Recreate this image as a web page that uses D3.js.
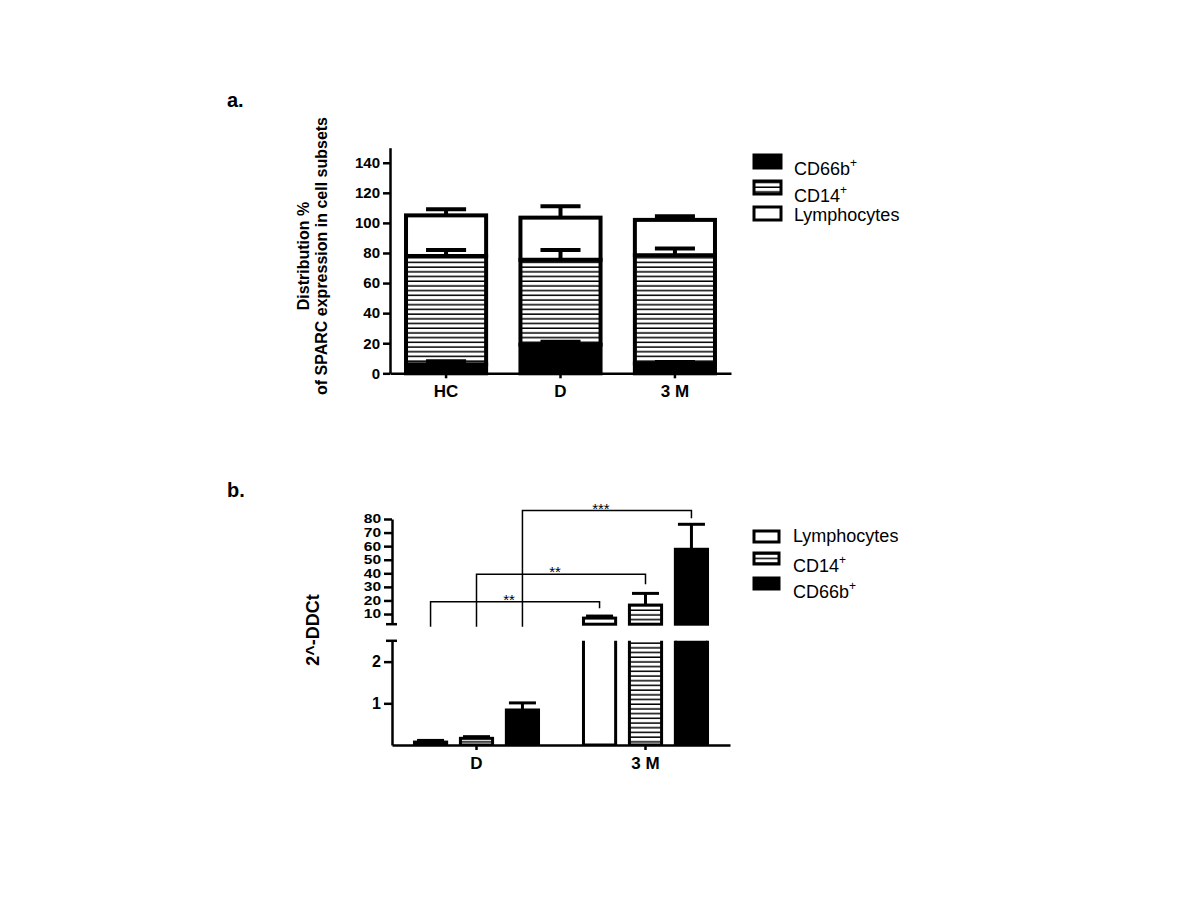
<!DOCTYPE html>
<html>
<head>
<meta charset="utf-8">
<script src="https://cdnjs.cloudflare.com/ajax/libs/d3/7.8.5/d3.min.js"></script>
<style>
body { margin: 0; background: #fff; }
svg { font-family: "Liberation Sans", Arial, sans-serif; }
.axis path, .axis line { stroke: #000; stroke-width: 2.5; fill: none; }
.axis text { font-weight: bold; fill: #000; }
</style>
</head>
<body>
<div id="chart"></div>
<script>

// panel a: stacked distribution (%), mean and SEM per subset
var catsA = ["HC", "D", "3 M"];
var cd66bMeanA = [6, 19, 6.5];
var cd66bSemA = [2, 2, 1];
var cd14MeanA = [72, 56.5, 72];
var cd14SemA = [4, 6.5, 4.5];
var lymphMeanA = [27, 28, 23.5];
var lymphSemA = [4, 7.5, 2.5];
var yTicksA = [0, 20, 40, 60, 80, 100, 120, 140];

// panel b: 2^-DDCt per subset
var catsB = ["D", "3 M"];
var seriesB = ["Lymphocytes", "CD14", "CD66b"];
var lymphB = [0.07, 7];
var lymphSemB = [0.04, 1.5];
var cd14B = [0.16, 16.6];
var cd14SemB = [0.04, 8.6];
var cd66bB = [0.84, 57.7];
var cd66bSemB = [0.17, 18.4];
var yTicksUpperB = [10, 20, 30, 40, 50, 60, 70, 80];
var yTicksLowerB = [1, 2];
var bracketTop = [19, 39.3, 86.2];
var bracketEnd = [14.2, 31.9, 80.5];
var bracketStars = ["**", "**", "***"];

var svg = d3.select('#chart').append('svg')
	.attr('width', 1200)
	.attr('height', 900);

var defs = svg.append('defs');
var pat = defs.append('pattern')
	.attr('id', 'hatch')
	.attr('patternUnits', 'userSpaceOnUse')
	.attr('width', 8)
	.attr('height', 4.7);
pat.append('rect').attr('width', 8).attr('height', 4.7).attr('fill', '#fff');
pat.append('rect').attr('y', 3.2).attr('width', 8).attr('height', 1.5).attr('fill', '#000');

var fills = { "CD66b": "#000", "CD14": "url(#hatch)", "Lymphocytes": "#fff" };

// ---------- panel a ----------
svg.append('text').attr('x', 227).attr('y', 107)
	.style('font-size', '20px').style('font-weight', 'bold').text('a.');

var ya = d3.scaleLinear().domain([0, 150]).range([373.3, 147.7]);
var xa = d3.scaleBand().domain(catsA).range([390, 731]).paddingInner(0.3).paddingOuter(0.14);

var stackA = [];
catsA.forEach(function(c, i) {
	var parts = [
		{ s: "CD66b", m: cd66bMeanA[i], e: cd66bSemA[i] },
		{ s: "CD14", m: cd14MeanA[i], e: cd14SemA[i] },
		{ s: "Lymphocytes", m: lymphMeanA[i], e: lymphSemA[i] }
	];
	var base = 0;
	parts.forEach(function(p) {
		stackA.push({ cat: c, series: p.s, y0: base, y1: base + p.m, sem: p.e });
		base += p.m;
	});
});

var ga = svg.append('g');
ga.selectAll('.segA')
	.data(stackA)
	.enter().append('rect')
		.attr('class', 'segA')
		.attr('x', function(d) { return xa(d.cat); })
		.attr('width', xa.bandwidth())
		.attr('y', function(d) { return ya(d.y1); })
		.attr('height', function(d) { return ya(d.y0) - ya(d.y1); })
		.attr('fill', function(d) { return fills[d.series]; })
		.attr('stroke', '#000')
		.attr('stroke-width', 4);

var errA = ga.selectAll('.errA')
	.data(stackA)
	.enter().append('g')
		.attr('class', 'errA')
		.attr('transform', function(d) { return 'translate(' + (xa(d.cat) + xa.bandwidth() / 2) + ',0)'; });
errA.append('line')
	.attr('y1', function(d) { return ya(d.y1); })
	.attr('y2', function(d) { return ya(d.y1 + d.sem); })
	.attr('stroke', '#000').attr('stroke-width', 4);
errA.append('line')
	.attr('x1', -xa.bandwidth() / 4).attr('x2', xa.bandwidth() / 4)
	.attr('y1', function(d) { return ya(d.y1 + d.sem); })
	.attr('y2', function(d) { return ya(d.y1 + d.sem); })
	.attr('stroke', '#000').attr('stroke-width', 4);

svg.append('g')
	.attr('class', 'axis')
	.attr('transform', 'translate(390,0)')
	.call(d3.axisLeft(ya).tickValues(yTicksA).tickSize(7).tickSizeOuter(0).tickPadding(3))
	.selectAll('text').style('font-size', '15px');

svg.append('g')
	.attr('class', 'axis')
	.attr('transform', 'translate(0,' + ya(0) + ')')
	.call(d3.axisBottom(xa).tickSize(5).tickSizeOuter(0).tickPadding(7))
	.selectAll('text').style('font-size', '17px');

var titleA = svg.append('text')
	.attr('transform', 'translate(309,256) rotate(-90)')
	.attr('text-anchor', 'middle')
	.style('font-size', '16px').style('font-weight', 'bold');
titleA.append('tspan').attr('x', 0).attr('y', 0).text('Distribution %');
titleA.append('tspan').attr('x', 0).attr('y', 18).text('of SPARC expression in cell subsets');

// legend a
var legA = [["CD66b", true], ["CD14", true], ["Lymphocytes", false]];
var legABoxY = [155, 181, 207];
var legATextY = [175, 202, 221];
legA.forEach(function(l, i) {
	svg.append('rect')
		.attr('x', 754).attr('y', legABoxY[i])
		.attr('width', 27).attr('height', 13)
		.attr('fill', fills[l[0]])
		.attr('stroke', '#000').attr('stroke-width', 3);
	var t = svg.append('text').attr('x', 794).attr('y', legATextY[i]).style('font-size', '18px').text(l[0]);
	if (l[1]) t.append('tspan').attr('dy', -8).style('font-size', '12px').text('+');
});

// ---------- panel b ----------
svg.append('text').attr('x', 227).attr('y', 497)
	.style('font-size', '20px').style('font-weight', 'bold').text('b.');

var xb = d3.scaleBand().domain(catsB).range([392, 730]).paddingInner(0.266).paddingOuter(0.133);
var xs = d3.scaleBand().domain(seriesB).range([0, xb.bandwidth()]).paddingInner(0.3).paddingOuter(0);
var yU = d3.scaleLinear().domain([2.5, 80]).range([624.2, 519]);
var yL = d3.scaleLinear().domain([0, 2.5]).range([745, 640.8]);

var rowsB = [];
catsB.forEach(function(c, i) {
	rowsB.push({ cat: c, series: "Lymphocytes", v: lymphB[i], e: lymphSemB[i] });
	rowsB.push({ cat: c, series: "CD14", v: cd14B[i], e: cd14SemB[i] });
	rowsB.push({ cat: c, series: "CD66b", v: cd66bB[i], e: cd66bSemB[i] });
});
function bx(d) { return xb(d.cat) + xs(d.series); }

defs.append('clipPath').attr('id', 'clipU')
	.append('rect').attr('x', 380).attr('y', 480).attr('width', 380).attr('height', yU(2.5) + 2 - 480);
defs.append('clipPath').attr('id', 'clipL')
	.append('rect').attr('x', 380).attr('y', yL(2.5)).attr('width', 380).attr('height', yL(0) - yL(2.5));

var gU = svg.append('g').attr('clip-path', 'url(#clipU)');
gU.selectAll('rect')
	.data(rowsB.filter(function(d) { return d.v > 2.5; }))
	.enter().append('rect')
		.attr('x', bx)
		.attr('width', xs.bandwidth())
		.attr('y', function(d) { return yU(d.v); })
		.attr('height', function(d) { return yU(2.5) - yU(d.v); })
		.attr('fill', function(d) { return fills[d.series]; })
		.attr('stroke', '#000').attr('stroke-width', 3);

var gL = svg.append('g').attr('clip-path', 'url(#clipL)');
gL.selectAll('rect')
	.data(rowsB)
	.enter().append('rect')
		.attr('x', bx)
		.attr('width', xs.bandwidth())
		.attr('y', function(d) { return d.v > 2.5 ? yL(2.5) - 10 : yL(d.v); })
		.attr('height', function(d) { return yL(0) - (d.v > 2.5 ? yL(2.5) - 10 : yL(d.v)); })
		.attr('fill', function(d) { return fills[d.series]; })
		.attr('stroke', '#000').attr('stroke-width', 3);

var errB = svg.selectAll('.errB')
	.data(rowsB)
	.enter().append('g')
		.attr('class', 'errB')
		.attr('transform', function(d) { return 'translate(' + (bx(d) + xs.bandwidth() / 2) + ',0)'; });
function yb(v, ref) { return ref > 2.5 ? yU(v) : yL(v); }
errB.append('line')
	.attr('y1', function(d) { return yb(d.v, d.v); })
	.attr('y2', function(d) { return yb(d.v + d.e, d.v); })
	.attr('stroke', '#000').attr('stroke-width', 3);
errB.append('line')
	.attr('x1', -xs.bandwidth() * 0.42).attr('x2', xs.bandwidth() * 0.42)
	.attr('y1', function(d) { return yb(d.v + d.e, d.v); })
	.attr('y2', function(d) { return yb(d.v + d.e, d.v); })
	.attr('stroke', '#000').attr('stroke-width', 3);

// upper segment: labels packed tightly, drawn small and widened
svg.append('g')
	.attr('class', 'axis')
	.attr('transform', 'translate(392,0)')
	.call(d3.axisLeft(yU).tickValues(yTicksUpperB).tickSize(8).tickSizeOuter(0).tickPadding(2))
	.selectAll('text')
		.style('font-size', '12px')
		.attr('x', -8.4)
		.attr('transform', 'scale(1.3,1)');

svg.append('g')
	.attr('class', 'axis')
	.attr('transform', 'translate(392,0)')
	.call(d3.axisLeft(yL).tickValues(yTicksLowerB).tickSize(8).tickSizeOuter(0).tickPadding(3).tickFormat(d3.format('d')))
	.selectAll('text').style('font-size', '16px');

// axis break marks
[yU(2.5), yL(2.5)].forEach(function(y) {
	svg.append('line').attr('x1', 386).attr('x2', 397).attr('y1', y).attr('y2', y)
		.attr('stroke', '#000').attr('stroke-width', 2.5);
});

svg.append('g')
	.attr('class', 'axis')
	.attr('transform', 'translate(0,' + yL(0) + ')')
	.call(d3.axisBottom(xb).tickSize(5).tickSizeOuter(0).tickPadding(7))
	.selectAll('text').style('font-size', '17px');

svg.append('text')
	.attr('transform', 'translate(319,630) rotate(-90)')
	.attr('text-anchor', 'middle')
	.style('font-size', '18px').style('font-weight', 'bold')
	.text('2^-DDCt');

// significance brackets D vs 3 M
seriesB.forEach(function(s, i) {
	var x1 = xb("D") + xs(s) + xs.bandwidth() / 2;
	var x2 = xb("3 M") + xs(s) + xs.bandwidth() / 2;
	svg.append('path')
		.attr('d', 'M' + x1 + ',' + (yU(2.5) + 2.5) + 'V' + yU(bracketTop[i]) + 'H' + x2 + 'V' + yU(bracketEnd[i]))
		.attr('fill', 'none').attr('stroke', '#000').attr('stroke-width', 1.5);
	svg.append('text')
		.attr('x', (x1 + x2) / 2 - 6).attr('y', yU(bracketTop[i]) + 3)
		.attr('text-anchor', 'middle')
		.style('font-size', '15px')
		.text(bracketStars[i]);
});

// legend b
var legB = [["Lymphocytes", false], ["CD14", true], ["CD66b", true]];
var legBBoxY = [531, 553, 578];
var legBTextY = [542, 572, 598];
legB.forEach(function(l, i) {
	svg.append('rect')
		.attr('x', 754).attr('y', legBBoxY[i])
		.attr('width', 25).attr('height', 11)
		.attr('fill', fills[l[0]])
		.attr('stroke', '#000').attr('stroke-width', 3);
	var t = svg.append('text').attr('x', 793).attr('y', legBTextY[i]).style('font-size', '18px').text(l[0]);
	if (l[1]) t.append('tspan').attr('dy', -8).style('font-size', '12px').text('+');
});

</script>
</body>
</html>
